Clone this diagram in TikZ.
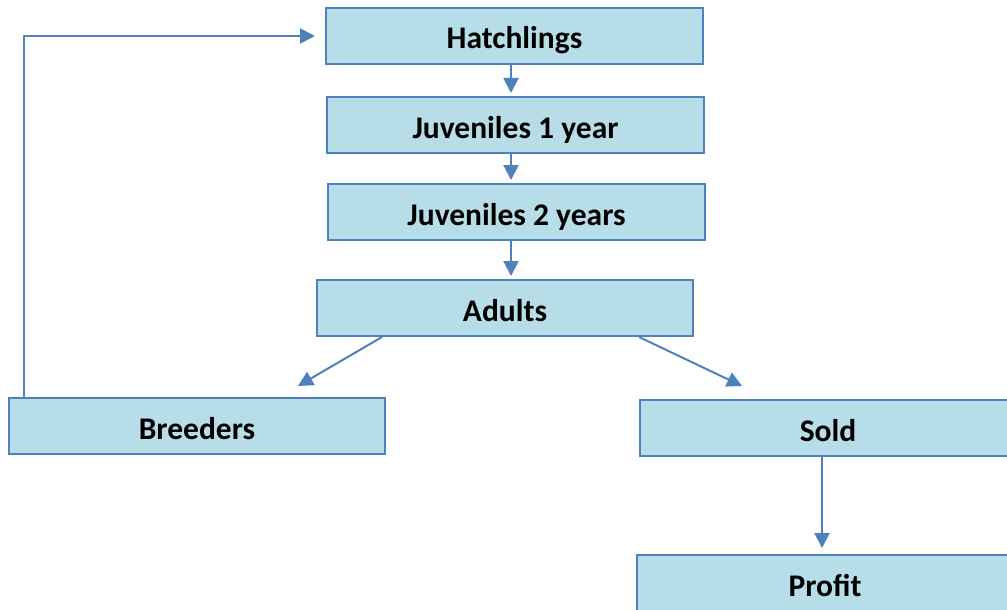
\documentclass[tikz,border=0pt]{standalone}
\usepackage{fontspec}
\setmainfont{Carlito}
\usetikzlibrary{arrows.meta,calc}
\definecolor{boxfill}{HTML}{B7DDE8}
\definecolor{boxline}{HTML}{4F81BD}
\tikzset{
  stagebox/.style={draw=boxline, fill=boxfill, line width=2pt, minimum width=376pt, minimum height=56pt,
    inner sep=0pt, text height=26pt, text depth=0pt,
    font=\bfseries\fontsize{31.5}{36}\selectfont},
  flow/.style={draw=boxline, line width=2pt, -{Triangle[width=15pt,length=15pt]}}
}
\begin{document}
\begin{tikzpicture}[x=1pt,y=-1pt]
\useasboundingbox (0,0) rectangle (1007,610);
\clip (0,0) rectangle (1007,610);
\fill[white] (0,0) rectangle (1007,610);
\node[stagebox, minimum width=377pt] (hatch) at (514.5,36) {Hatchlings};
\node[stagebox, minimum width=377pt] (juv1) at (515.5,125) {Juveniles 1 year};
\node[stagebox, minimum width=377pt] (juv2) at (516.5,212) {Juveniles 2 years};
\node[stagebox] (adults) at (505,308) {Adults};
\node[stagebox] (breeders) at (197,426) {Breeders};
\node[stagebox] (sold) at (828,428) {Sold};
\node[stagebox] (profit) at (825,583) {Profit};

\draw[flow, shorten >=3pt] (511,0 |- hatch.south) -- (511,0 |- juv1.north);
\draw[flow, shorten >=3pt] (511,0 |- juv1.south) -- (511,0 |- juv2.north);
\draw[flow, shorten >=3pt] (511,0 |- juv2.south) -- (511,0 |- adults.north);
\draw[flow] ($(adults.south west)+(66,0)$) -- ($(breeders.north east)+(-88,-11)$);
\draw[flow] ($(adults.south east)+(-55,0)$) -- ($(sold.north west)+(103,-13)$);
\draw[flow, shorten >=6pt] (822,0 |- sold.south) -- (822,0 |- profit.north);
\draw[flow] ($(breeders.north west)+(16,0)$) |- ($(hatch.west)+(-10,0)$);
\end{tikzpicture}
\end{document}
